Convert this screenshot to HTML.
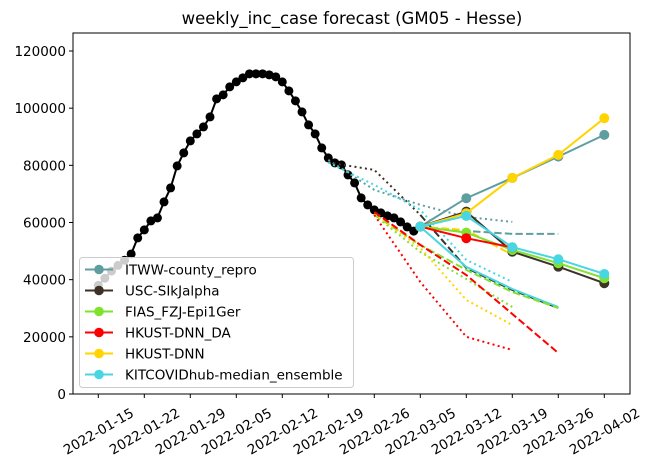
<!DOCTYPE html>
<html><head><meta charset="utf-8"><style>
html,body{margin:0;padding:0;background:#fff;}
svg{display:block;font-family:"DejaVu Sans","Liberation Sans",sans-serif;}
</style></head><body>
<svg id="chart" width="653" height="466" viewBox="0 0 653 466">
<text x="352" y="24" font-size="16.5" text-anchor="middle" fill="#000">weekly_inc_case forecast (GM05 - Hesse)</text>
<defs><clipPath id="plotclip"><rect x="73" y="33" width="557" height="361"/></clipPath></defs>
<g id="grid"></g>
<g id="series" clip-path="url(#plotclip)"></g>
<g id="legend"></g>
</svg>
<script>
const observedDates = ["2022-01-15","2022-01-16","2022-01-17","2022-01-18","2022-01-19","2022-01-20","2022-01-21","2022-01-22","2022-01-23","2022-01-24","2022-01-25","2022-01-26","2022-01-27","2022-01-28","2022-01-29","2022-01-30","2022-01-31","2022-02-01","2022-02-02","2022-02-03","2022-02-04","2022-02-05","2022-02-06","2022-02-07","2022-02-08","2022-02-09","2022-02-10","2022-02-11","2022-02-12","2022-02-13","2022-02-14","2022-02-15","2022-02-16","2022-02-17","2022-02-18","2022-02-19","2022-02-20","2022-02-21","2022-02-22","2022-02-23","2022-02-24","2022-02-25","2022-02-26","2022-02-27","2022-02-28","2022-03-01","2022-03-02","2022-03-03","2022-03-04"];
const observedValues = [38000,40500,43000,45000,46800,49000,54600,57400,60550,61600,67200,72100,79800,84350,88550,91000,93450,96950,103250,104650,107450,109200,110600,112000,112000,112000,111650,110950,109200,106050,102550,98700,94150,91000,86100,82600,80850,80150,76650,73850,68600,66150,64400,63350,62300,61600,60200,58450,57000];

const forecastDates = ["2022-03-05","2022-03-12","2022-03-19","2022-03-26","2022-04-02"];
const modelNames = ["ITWW-county_repro","USC-SIkJalpha","FIAS_FZJ-Epi1Ger","HKUST-DNN_DA","HKUST-DNN","KITCOVIDhub-median_ensemble"];
const modelColors = ["#5f9ea0","#3d3128","#7ee22e","#ff0000","#ffd400","#48d6e2"];
const itwwValues = [58550,68500,75600,83050,90650];
const uscValues = [58550,63800,49800,44550,38750];
const fiasValues = [58550,56450,50400,45750,40500];
const hkustDaValues = [58550,54500,51300];
const hkustValues = [58550,63250,75600,83650,96500];
const kitValues = [58550,62300,51350,47150,42000];

const qDates1 = ["2022-02-19","2022-02-26","2022-03-05","2022-03-12","2022-03-19"];
const qDates2 = ["2022-03-05","2022-03-12","2022-03-19","2022-03-26"];
const qDates3 = ["2022-02-26","2022-03-05","2022-03-12","2022-03-19"];
const qDates4 = ["2022-02-26","2022-03-05","2022-03-12","2022-03-19","2022-03-26"];
const itwwUpperQ = [81900,71400,66150,61950,60200];
const itwwLowerQ = [58550,57050,56000,56000];
const uscUpperQ = [81000,78400,62650];
const uscLowerQ = [62650,44100,36400,30100];
const kitUpperQ = [81000,73150,64400,46900,39200];
const kitLowerQ = [58450,44450,36750,30450];
const fiasUpperQ = [62650,52150,43400,35700,30100];
const fiasLowerQ = [62650,49700,40250,30450];
const hkustUpperQ = [58450,57400,48650];
const hkustLowerQ = [63000,51100,32900,24150];
const hkustDaUpperQ = [63700,52150,41650,28000,14350];
const hkustDaLowerQ = [62650,39200,20000,15400];

const yTicks = [0,20000,40000,60000,80000,100000,120000];
const xTickLabels = ["2022-01-15","2022-01-22","2022-01-29","2022-02-05","2022-02-12","2022-02-19","2022-02-26","2022-03-05","2022-03-12","2022-03-19","2022-03-26","2022-04-02"];

const NS = "http://www.w3.org/2000/svg";
const t0 = Date.UTC(2022,0,15);
function dayOf(s){const p=s.split("-");return (Date.UTC(+p[0],+p[1]-1,+p[2])-t0)/86400000;}
function xs(s){return 98.3 + dayOf(s)*6.5714;}
function ys(v){return 394 - v*(343/120000);}
function mk(tag, attrs, parent){const e=document.createElementNS(NS,tag);for(const k in attrs)e.setAttribute(k,attrs[k]);parent.appendChild(e);return e;}

const grid = document.getElementById("grid");
const series = document.getElementById("series");
const legend = document.getElementById("legend");

const frame = mk("rect",{x:73,y:33,width:557,height:361,fill:"none",stroke:"#000","stroke-width":1},grid);


yTicks.forEach(v=>{
  const y=ys(v);
  const tk=mk("line",{x1:69,x2:73,y1:y,y2:y,stroke:"#000","stroke-width":1},grid);
  
  
  const tx=mk("text",{x:66,y:y+5,"font-size":13.5,"text-anchor":"end",fill:"#000"},grid);
  tx.textContent=String(v);
  
  
});
xTickLabels.forEach(s=>{
  const x=xs(s);
  const tk=mk("line",{x1:x,x2:x,y1:394,y2:398,stroke:"#000","stroke-width":1},grid);
  
  
  const tx=mk("text",{x:x,y:436,"font-size":13.5,"text-anchor":"middle",fill:"#000",transform:"rotate(-30 "+x+" 431)"},grid);
  tx.textContent=s;
  
  
});

function line(dates, vals, color, dash, name){
  const pts=vals.map((v,i)=>xs(dates[i]).toFixed(1)+","+ys(v).toFixed(1)).join(" ");
  const a={points:pts,fill:"none",stroke:color,"stroke-width":2};
  if(dash)a["stroke-dasharray"]=dash;
  const pl=mk("polyline",a,series);
  
  
}
function markers(dates, vals, color, r, name){
  vals.forEach((v,i)=>{
    const c=mk("circle",{cx:xs(dates[i]),cy:ys(v),r:r,fill:color},series);
    
    
  });
}
const DOT="2,3.3", DASH="7.4,3.2";

line(observedDates, observedValues, "#000", null, "observed-line");
markers(observedDates, observedValues, "#000", 4.5, "observed-point");

line(qDates1, itwwUpperQ, modelColors[0], DOT, "itww-upper-quantile");
line(qDates2, itwwLowerQ, modelColors[0], DASH, "itww-lower-quantile");
line(qDates1.slice(0,3), uscUpperQ, modelColors[1], DOT, "usc-upper-quantile");
line(qDates2, uscLowerQ, modelColors[1], DASH, "usc-lower-quantile");
line(qDates1, kitUpperQ, modelColors[5], DOT, "kit-upper-quantile");
line(qDates2, kitLowerQ, modelColors[5], null, "kit-lower-quantile");
line(qDates4, fiasUpperQ, modelColors[2], DASH, "fias-upper-quantile");
line(qDates3, fiasLowerQ, modelColors[2], DOT, "fias-lower-quantile");
line(qDates2.slice(0,3), hkustUpperQ, modelColors[4], DASH, "hkust-upper-quantile");
line(qDates3, hkustLowerQ, modelColors[4], DOT, "hkust-lower-quantile");
line(qDates4, hkustDaUpperQ, modelColors[3], DASH, "hkust-da-upper-quantile");
line(qDates3, hkustDaLowerQ, modelColors[3], DOT, "hkust-da-lower-quantile");

const allVals=[itwwValues,uscValues,fiasValues,hkustDaValues,hkustValues,kitValues];
const keys=["itww","usc","fias","hkust-da","hkust","kit"];
allVals.forEach((vals,k)=>{
  const d=forecastDates.slice(0,vals.length);
  line(d, vals, modelColors[k], null, keys[k]+"-forecast-line");
  markers(d, vals, modelColors[k], 5, keys[k]+"-forecast-point");
});

const lb=mk("rect",{x:79.5,y:257.5,width:274,height:130,rx:3,fill:"rgba(255,255,255,0.8)",stroke:"#cccccc","stroke-width":1},legend);


modelNames.forEach((n,i)=>{
  const y=269.5+i*21;
  const g=mk("g",{},legend);
  
  
  mk("line",{x1:85,x2:113,y1:y,y2:y,stroke:modelColors[i],"stroke-width":2},g);
  mk("circle",{cx:99,cy:y,r:4.8,fill:modelColors[i]},g);
  const t=mk("text",{x:125,y:y+5,"font-size":13.5,fill:"#000"},g);
  t.textContent=n;
});
</script>
</body></html>
